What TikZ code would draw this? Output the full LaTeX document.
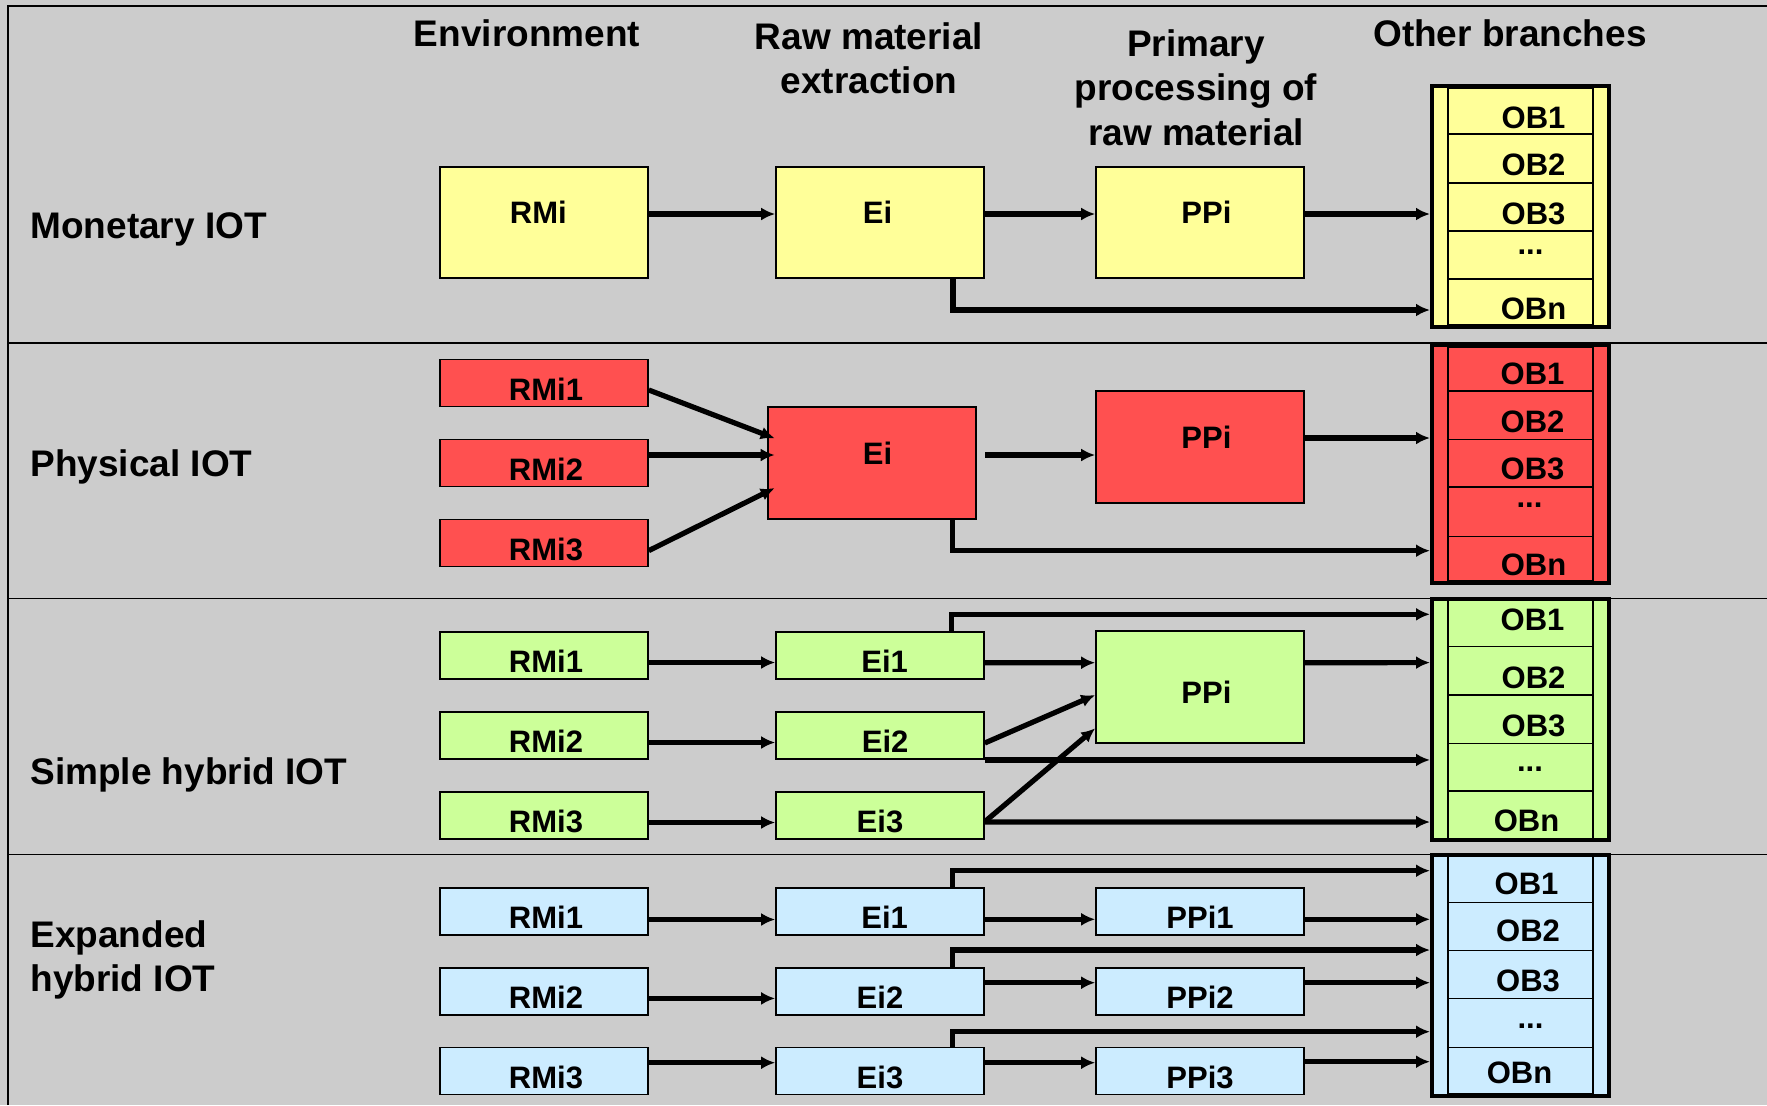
\documentclass[tikz,border=0pt]{standalone}
\usepackage{fontspec}
\setmainfont{Liberation Sans}
\usetikzlibrary{arrows.meta}
\definecolor{bgc}{HTML}{CCCCCC}
\definecolor{cyel}{HTML}{FFFF99}
\definecolor{cred}{HTML}{FF5050}
\definecolor{cgrn}{HTML}{CCFF99}
\definecolor{cblu}{HTML}{CCECFF}
\begin{document}
\begin{tikzpicture}[x=0.5pt,y=-0.5pt,
  tx/.style={font=\fontsize{15.5}{18}\selectfont\bfseries, text height=11.1pt, text depth=0pt, inner sep=0pt},
  hd/.style={font=\fontsize{18.5}{22.25}\selectfont\bfseries, inner sep=0pt, align=center, anchor=north},
  rl/.style={font=\fontsize{18.5}{22.25}\selectfont\bfseries, inner sep=0pt, align=left, anchor=north west},
  box/.style={draw=black, line width=0.8pt, minimum width=104pt, inner sep=0pt},
  sm/.style 2 args={box, minimum height=23.65pt, label={[tx,xshift=#2,yshift=-3pt]center:#1}},
  bigb/.style 2 args={box, minimum height=55.75pt, label={[tx,xshift=#2,yshift=5pt]center:#1}},
  bigc/.style 2 args={box, minimum height=56pt, label={[tx,xshift=#2,yshift=-3pt]center:#1}},
  ob/.style={draw=black, line width=2pt, minimum width=88.5pt, inner sep=0pt},
  cell/.style={draw=black, line width=0.75pt, minimum width=72.5pt, inner sep=0pt},
  lb/.style n args={3}{label={[tx,xshift=#1,yshift=#2]center:#3}},
  dl/.style n args={2}{label={[tx,text height=0pt,xshift=#1,yshift=#2]center:...}},
  arr/.style={line width=2.6pt, -{Latex[length=7pt,width=6.5pt]}},
  sep/.style={line width=0.85pt}]
\useasboundingbox (0,0) rectangle (1767,1105);
\fill[bgc] (0,0) rectangle (1767,1105);
\draw[line width=1pt] (8,1105) -- (8,6) -- (1767,6);
\draw[sep] (8,342.7) -- (1767,342.7);
\draw[sep] (8,598.4) -- (1767,598.4);
\draw[sep] (8,854.5) -- (1767,854.5);

% headers
\node[hd] (h-env) at (527,19) {Environment};
\node[hd] (h-raw) at (869,22) {Raw material\\extraction};
\node[hd] (h-pp) at (1196,29) {Primary\\processing of\\raw material};
\node[hd] (h-ob) at (1510,19) {Other branches};

% row labels
\node[rl] (r-m) at (30,212) {Monetary IOT};
\node[rl] (r-p) at (30,449) {Physical IOT};
\node[rl] (r-s) at (30,757) {Simple hybrid IOT};
\node[rl] (r-e) at (30,920) {Expanded\\hybrid IOT};

% ===== Monetary =====
\node[bigb={RMi}{-2.8pt}, fill=cyel] (m-rmi) at (544,222.5) {};
\node[bigb={Ei}{-1.2pt}, fill=cyel] (m-ei) at (880,222.5) {};
\node[bigb={PPi}{3.2pt}, fill=cyel] (m-ppi) at (1200,222.5) {};
\node[ob, fill=cyel, minimum height=120.5pt] (m-ob) at (1520.5,206.5) {};
\node[cell, minimum height=23pt, lb={6.5pt}{-3pt}{OB1}] (m-c1) at (1520.5,111) {};
\node[cell, minimum height=24.5pt, lb={6.5pt}{-2.75pt}{OB2}] (m-c2) at (1520.5,158.5) {};
\node[cell, minimum height=24pt, lb={6.5pt}{-3pt}{OB3}] (m-c3) at (1520.5,207) {};
\node[cell, minimum height=24pt, dl={5pt}{0.35pt}] (m-c4) at (1520.5,255) {};
\node[cell, minimum height=23pt, lb={6.5pt}{-3pt}{OBn}] (m-c5) at (1520.5,302) {};
\draw[arr] ([yshift=4.25pt]m-rmi.east) -- ([yshift=4.25pt]m-ei.west);
\draw[arr] ([yshift=4.25pt]m-ei.east) -- ([yshift=4.25pt]m-ppi.west);
\draw[arr] ([yshift=4.25pt]m-ppi.east) -- ([yshift=-3.75pt]m-ob.west);
\draw[arr] ([xshift=36.5pt]m-ei.south) |- ([yshift=-51.75pt]m-ob.west);

% ===== Physical =====
\node[sm={RMi1}{1pt}, fill=cred] (p-rmi1) at (544,383) {};
\node[sm={RMi2}{1pt}, fill=cred] (p-rmi2) at (544,463) {};
\node[sm={RMi3}{1pt}, fill=cred] (p-rmi3) at (544,543) {};
\node[bigb={Ei}{2.8pt}, fill=cred, minimum height=56pt] (p-ei) at (872,463) {};
\node[bigb={PPi}{3.2pt}, fill=cred, minimum height=56pt] (p-ppi) at (1200,447) {};
\node[ob, fill=cred, minimum height=119pt] (p-ob) at (1520.5,464) {};
\node[cell, minimum height=22pt, lb={6pt}{-2pt}{OB1}] (p-c1) at (1520.5,369) {};
\node[cell, minimum height=24.25pt, lb={6pt}{-3.1pt}{OB2}] (p-c2) at (1520.5,415.25) {};
\node[cell, minimum height=23.75pt, lb={6pt}{-2.75pt}{OB3}] (p-c3) at (1520.5,463.25) {};
\node[cell, minimum height=24.75pt, dl={4.5pt}{2.1pt}] (p-c4) at (1520.5,511.75) {};
\node[cell, minimum height=22.25pt, lb={6.5pt}{-2.9pt}{OBn}] (p-c5) at (1520.5,558.75) {};
\draw[arr] ([yshift=-3.5pt]p-rmi1.east) -- ([xshift=3.75pt,yshift=12.35pt]p-ei.west);
\draw[arr] ([yshift=4pt]p-rmi2.east) -- ([xshift=3.75pt,yshift=4pt]p-ei.west);
\draw[arr] ([yshift=-3.8pt]p-rmi3.east) -- ([xshift=3.75pt,yshift=-12.5pt]p-ei.west);
\draw[arr] ([xshift=4.25pt,yshift=4pt]p-ei.east) -- ([yshift=-4pt]p-ppi.west);
\draw[arr] ([yshift=4.5pt]p-ppi.east) -- ([yshift=13pt]p-ob.west);
\draw[arr] ([xshift=40.25pt]p-ei.south) |- ([yshift=-43.35pt]p-ob.west);

% ===== Simple hybrid =====
\node[sm={RMi1}{1pt}, fill=cgrn] (g-rmi1) at (544,655.5) {};
\node[sm={RMi2}{1pt}, fill=cgrn] (g-rmi2) at (544,735.5) {};
\node[sm={RMi3}{1pt}, fill=cgrn] (g-rmi3) at (544,815.5) {};
\node[sm={Ei1}{2.3pt}, fill=cgrn] (g-ei1) at (880,655.5) {};
\node[sm={Ei2}{2.6pt}, fill=cgrn] (g-ei2) at (880,735.5) {};
\node[sm={Ei3}{0pt}, fill=cgrn] (g-ei3) at (880,815.5) {};
\node[bigc={PPi}{3.2pt}, fill=cgrn] (g-ppi) at (1200,686.7) {};
\node[ob, fill=cgrn, minimum height=120.5pt] (g-ob) at (1520.5,719.2) {};
\node[cell, minimum height=23.35pt, lb={6pt}{2pt}{OB1}] (g-c1) at (1520.5,623.35) {};
\node[cell, minimum height=24.15pt, lb={6.5pt}{-3.4pt}{OB2}] (g-c2) at (1520.5,670.85) {};
\node[cell, minimum height=24.15pt, lb={6.5pt}{-2.9pt}{OB3}] (g-c3) at (1520.5,719.15) {};
\node[cell, minimum height=23.85pt, dl={4.75pt}{-2.2pt}] (g-c4) at (1520.5,767.15) {};
\node[cell, minimum height=23.65pt, lb={3pt}{-2.7pt}{OBn}] (g-c5) at (1520.5,814.65) {};
\draw[arr] ([yshift=-3.5pt]g-rmi1.east) -- ([yshift=-3.5pt]g-ei1.west);
\draw[arr] ([yshift=-3.5pt]g-rmi2.east) -- ([yshift=-3.5pt]g-ei2.west);
\draw[arr] ([yshift=-3.5pt]g-rmi3.east) -- ([yshift=-3.5pt]g-ei3.west);
\draw[arr] ([yshift=-3.6pt]g-ei1.east) -- ([yshift=12pt]g-ppi.west);
\draw[arr] ([yshift=-3.75pt]g-ei2.east) -- ([yshift=-4.15pt]g-ppi.west);
\draw[arr] ([yshift=-3.1pt]g-ei3.east) -- ([yshift=-20.8pt]g-ppi.west);
\draw[arr] ([yshift=12pt]g-ppi.east) -- ([yshift=28.3pt]g-ob.west);
\draw[arr] ([xshift=35.85pt]g-ei1.north) |- ([yshift=52.45pt]g-ob.west);
\draw[arr] (g-ei2.south east) -- (g-ei2.south east -| g-ob.west);
\draw[arr] ([yshift=-3.25pt]g-ei3.east) -- ([yshift=-51.4pt]g-ob.west);

% ===== Expanded hybrid =====
\node[sm={RMi1}{1pt}, fill=cblu] (b-rmi1) at (544,911.5) {};
\node[sm={RMi2}{1pt}, fill=cblu] (b-rmi2) at (544,991.5) {};
\node[sm={RMi3}{1pt}, fill=cblu] (b-rmi3) at (544,1071) {};
\node[sm={Ei1}{2.3pt}, fill=cblu] (b-ei1) at (880,911.5) {};
\node[sm={Ei2}{0pt}, fill=cblu] (b-ei2) at (880,991.5) {};
\node[sm={Ei3}{0pt}, fill=cblu] (b-ei3) at (880,1071) {};
\node[sm={PPi1}{0pt}, fill=cblu] (b-ppi1) at (1200,911.5) {};
\node[sm={PPi2}{0pt}, fill=cblu] (b-ppi2) at (1200,991.5) {};
\node[sm={PPi3}{0pt}, fill=cblu] (b-ppi3) at (1200,1071) {};
\node[ob, fill=cblu, minimum height=120.8pt] (b-ob) at (1520.5,975.5) {};
\node[cell, minimum height=23.35pt, lb={3pt}{-2pt}{OB1}] (b-c1) at (1520.5,879.35) {};
\node[cell, minimum height=24pt, lb={3.75pt}{-1.65pt}{OB2}] (b-c2) at (1520.5,926.7) {};
\node[cell, minimum height=24pt, lb={3.75pt}{-2.65pt}{OB3}] (b-c3) at (1520.5,974.7) {};
\node[cell, minimum height=24.3pt, dl={5pt}{-2.65pt}] (b-c4) at (1520.5,1023) {};
\node[cell, minimum height=23.35pt, lb={-0.5pt}{-1pt}{OBn}] (b-c5) at (1520.5,1070.65) {};
\draw[arr] ([yshift=-4pt]b-rmi1.east) -- ([yshift=-4pt]b-ei1.west);
\draw[arr] ([yshift=-3.45pt]b-rmi2.east) -- ([yshift=-3.45pt]b-ei2.west);
\draw[arr] ([yshift=4.15pt]b-rmi3.east) -- ([yshift=4.15pt]b-ei3.west);
\draw[arr] ([yshift=-3.9pt]b-ei1.east) -- ([yshift=-3.9pt]b-ppi1.west);
\draw[arr] ([yshift=4.4pt]b-ei2.east) -- ([yshift=4.4pt]b-ppi2.west);
\draw[arr] ([yshift=4.15pt]b-ei3.east) -- ([yshift=4.15pt]b-ppi3.west);
\draw[arr] ([yshift=-3.9pt]b-ppi1.east) -- ([yshift=28.1pt]b-ob.west);
\draw[arr] ([yshift=4.4pt]b-ppi2.east) -- ([yshift=-3.6pt]b-ob.west);
\draw[arr] ([yshift=4.65pt]b-ppi3.east) -- ([yshift=-43.1pt]b-ob.west);
\draw[arr] ([xshift=36.15pt]b-ei1.north) |- ([yshift=52.4pt]b-ob.west);
\draw[arr] ([xshift=36.15pt]b-ei2.north) |- ([yshift=12.75pt]b-ob.west);
\draw[arr] ([xshift=36.15pt]b-ei3.north) |- ([yshift=-28.1pt]b-ob.west);
\end{tikzpicture}
\end{document}
